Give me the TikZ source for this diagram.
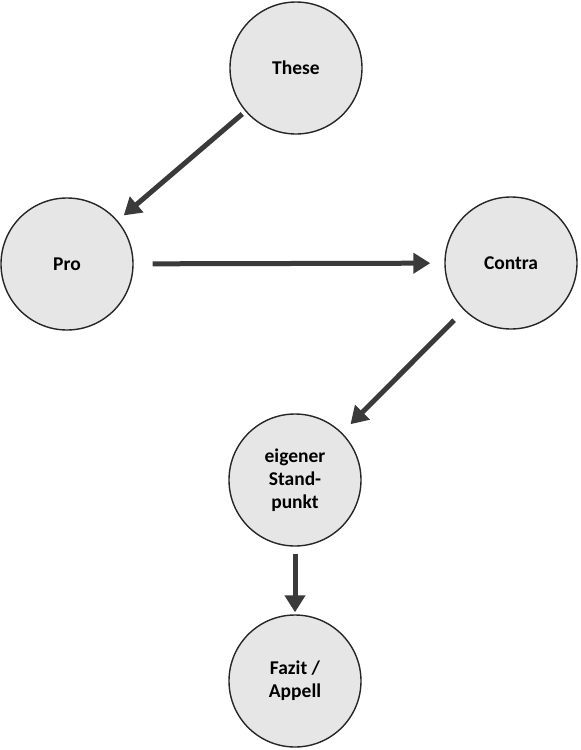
\documentclass[tikz,border=0pt]{standalone}
\usepackage{fontspec}
\setmainfont{Carlito}
\usepackage{tikz}
\usetikzlibrary{arrows.meta}
\definecolor{knotgrau}{HTML}{E6E6E6}
\definecolor{pfeilgrau}{HTML}{3A3A3A}

\begin{document}
\begin{tikzpicture}[
  x=1pt, y=1pt,
  every node/.style={circle, draw=black!85, line width=1.4pt, fill=knotgrau,
    minimum size=132pt, inner sep=0pt, align=center,
    font=\fontsize{19.5}{23}\selectfont\bfseries},
  pfeil/.style={draw=pfeilgrau, line width=5pt,
    -{Triangle[length=17pt, width=20pt]}}
]
  \useasboundingbox (0,0) rectangle (581,-750);

  \node (these)   at (296,-68)  {These};
  \node (pro)     at (67,-264)  {Pro};
  \node (contra)  at (511,-263) {Contra};
  \node (eigen)   at (295,-480) {eigener\\Stand-\\punkt};
  \node (fazit)   at (295,-681) {Fazit /\\Appell};

  \draw[pfeil, shorten <=4pt, shorten >=8pt] (these) -- (pro);
  \draw[pfeil, shorten <=19pt, shorten >=14pt] (pro) -- (contra);
  \draw[pfeil, shorten <=14pt, shorten >=12pt] (contra) -- (eigen);
  \draw[pfeil, shorten <=7pt, shorten >=2pt] (eigen) -- (fazit);
\end{tikzpicture}
\end{document}
